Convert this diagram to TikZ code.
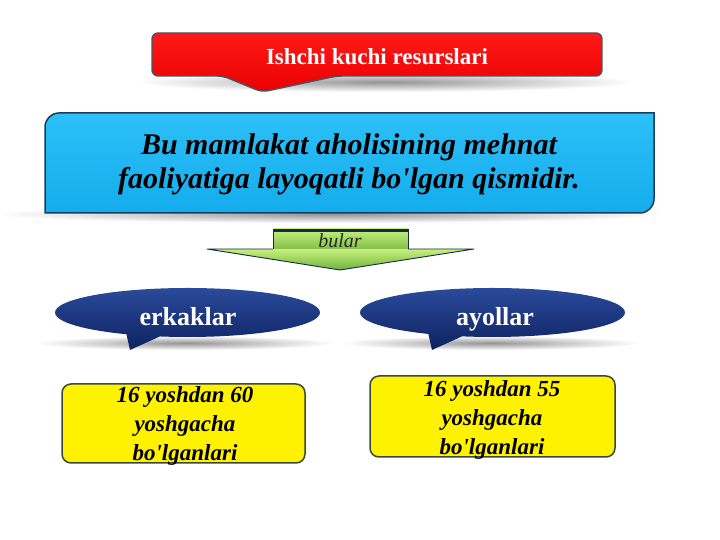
\documentclass[tikz,border=0pt]{standalone}
\usepackage{fontspec}
\setmainfont{Liberation Serif}
\definecolor{redtop}{RGB}{255,25,25}
\definecolor{redbot}{RGB}{235,0,0}
\definecolor{redborder}{RGB}{72,84,100}
\definecolor{bluetop}{RGB}{45,192,248}
\definecolor{bluebot}{RGB}{20,172,236}
\definecolor{blueborder}{RGB}{30,60,90}
\definecolor{navytop}{RGB}{42,74,155}
\definecolor{navybot}{RGB}{14,34,96}
\definecolor{greentop}{RGB}{200,240,125}
\definecolor{greenbot}{RGB}{110,180,60}
\definecolor{navyline}{RGB}{25,40,80}
\definecolor{yelborder}{RGB}{60,72,58}
\tikzset{
  softshadow/.style={inner color=black!42, outer color=white},
  yellowbox/.style={draw=yelborder, line width=1.5pt, fill=yellow, rounded corners=9pt},
  yellowtext/.style={align=center, text=black, font=\bfseries\itshape\fontsize{23}{29}\selectfont},
  bubbletext/.style={anchor=base, text=white, font=\bfseries\fontsize{26}{30}\selectfont},
  bubble/.style={top color=navytop, bottom color=navybot}
}
\begin{document}
\begin{tikzpicture}[x=1pt,y=1pt]
\useasboundingbox (0,0) rectangle (720,540);
% soft shadows
\shade[softshadow] (385,458) ellipse [x radius=250, y radius=10];
\shade[softshadow] (330,326) ellipse [x radius=335, y radius=9];
\shade[softshadow] (185,197) ellipse [x radius=150, y radius=7];
\shade[softshadow] (490,197) ellipse [x radius=150, y radius=7];

% red title box with pointer
\path[draw=redborder, line width=1.4pt, top color=redtop, bottom color=redbot, rounded corners=6pt]
  (223,464) -- (152,464) -- (152,507) -- (602,507) -- (602,464) -- (337,464) -- (262,448) -- cycle;
\node[anchor=base, text=white, font=\bfseries\fontsize{23}{27}\selectfont] (title) at (377,475) {Ishchi kuchi resurslari};

% blue definition box
\path[draw=blueborder, line width=1.5pt, top color=bluetop, bottom color=bluebot]
  (45,327) -- (45,413) arc[start angle=180, end angle=90, radius=14] -- (654,427)
  -- (654,341) arc[start angle=0, end angle=-90, radius=14] -- cycle;
\node[align=center, text=black, font=\bfseries\itshape\fontsize{30}{34}\selectfont] (def) at (349,375.5)
  {Bu mamlakat aholisining mehnat\\faoliyatiga layoqatli bo\textquotesingle lgan qismidir.};

% green arrow
\path[top color=greentop, bottom color=greenbot] (207,291) -- (474,291) -- (340,270) -- cycle;
\draw[navyline, line width=0.9pt, line join=round] (273,291) -- (207,291) -- (340,270) -- (474,291) -- (408,291);
\path[top color=greentop, bottom color=greenbot!80!greentop] (273,291) rectangle (408,311);
\draw[navyline, line width=0.8pt] (273,291) -- (273,311) -- (408,311) -- (408,291);
\draw[navyline, line width=2.5pt] (273,309.5) -- (408,309.5);
\node[anchor=base, text=black!85, font=\itshape\fontsize{20}{24}\selectfont] (bular) at (340,292) {bular};

% dark blue callout ellipses
\shade[bubble] (187.5,227.5) ellipse [x radius=132.5, y radius=24.5]
  (125,212) -- (130,190) .. controls (145,197) and (160,203) .. (172,210) -- cycle;
\node[bubbletext] (erk) at (188,214) {erkaklar};
\shade[bubble] (492.5,227.5) ellipse [x radius=132.5, y radius=24.5]
  (427,212) -- (432,190) .. controls (447,197) and (462,203) .. (474,210) -- cycle;
\node[bubbletext] (ayol) at (495,214) {ayollar};

% yellow boxes
\draw[yellowbox] (62,77) rectangle (305,156);
\node[yellowtext] (erktxt) at (185,114) {16 yoshdan 60\\yoshgacha\\bo\textquotesingle lganlari};
\draw[yellowbox] (370,83) rectangle (615,164);
\node[yellowtext] (ayoltxt) at (492,120) {16 yoshdan 55\\yoshgacha\\bo\textquotesingle lganlari};
\end{tikzpicture}
\end{document}
